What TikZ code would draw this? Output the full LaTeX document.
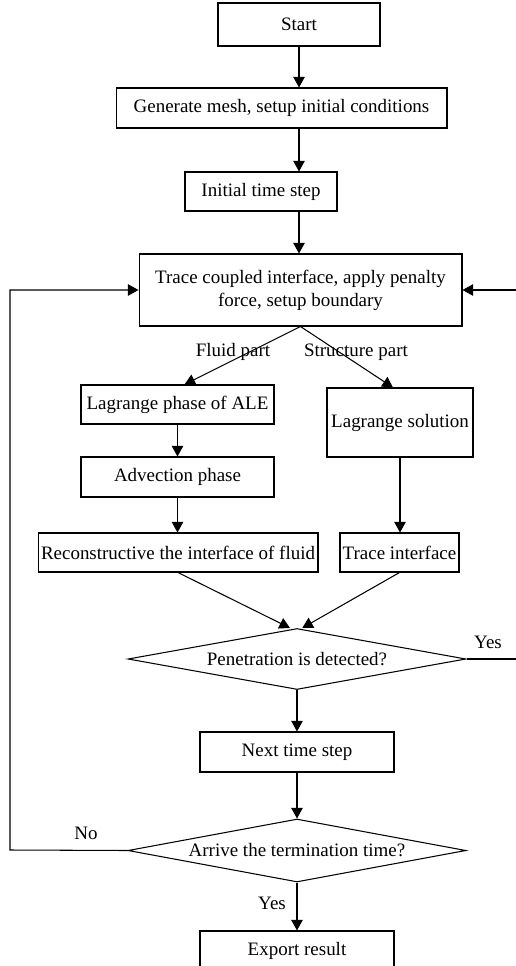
\documentclass[tikz,border=0pt]{standalone}
\usepackage{fontspec}
\setmainfont{Liberation Serif}
\usetikzlibrary{shapes.geometric, arrows.meta}
\usetikzlibrary{positioning}
\tikzstyle{process} = [rectangle, text centered, draw=black, line width=0.6pt, inner sep=1pt, font=\fontsize{10.8}{13}\selectfont]
\tikzstyle{decision} = [diamond, aspect=5.4, text centered, draw=black, line width=0.6pt, inner sep=0pt, font=\fontsize{10.8}{13}\selectfont]
\tikzstyle{branch_label} = [inner sep=1pt, font=\fontsize{10.8}{13}\selectfont]
\tikzstyle{flow} = [line width=0.6pt, ->, >={Triangle[length=6pt, width=6.5pt]}]
\tikzstyle{flow_line} = [line width=0.6pt]

\begin{document}
\begin{tikzpicture}[x=0.02cm, y=-0.02cm]

    \path [use as bounding box, clip] (0, 0) rectangle (516, 966);

    \node (start) [process, minimum width=3.24cm, minimum height=0.86cm] at (299, 24.5) {Start};
    \node (mesh) [process, minimum width=6.62cm, minimum height=0.8cm] at (281.5, 108) {Generate mesh, setup initial conditions};
    \node (inittime) [process, minimum width=3.04cm, minimum height=0.78cm] at (261, 191.5) {Initial time step};
    \node (trace) [process, align=center, minimum width=6.46cm, minimum height=1.44cm] at (300.5, 290) {Trace coupled interface, apply penalty\\force, setup boundary};

    \node (lagrange) [process, minimum width=3.86cm, minimum height=0.78cm] at (177.5, 404.5) {Lagrange phase of ALE};
    \node (advection) [process, minimum width=3.86cm, minimum height=0.8cm] at (177.5, 477) {Advection phase};
    \node (reconstruct) [process, minimum width=5.6cm, minimum height=0.78cm] at (178, 552.5) {Reconstructive the interface of fluid};
    \node (lagsol) [process, minimum width=2.92cm, minimum height=1.38cm] at (400, 422.5) {Lagrange solution};
    \node (traceint) [process, minimum width=2.38cm, minimum height=0.78cm] at (399.5, 552.5) {Trace interface};

    \node (penetration) [decision, minimum width=6.76cm, minimum height=1.22cm] at (297, 659) {Penetration is detected?};
    \node (nexttime) [process, minimum width=3.88cm, minimum height=0.8cm] at (297, 752) {Next time step};
    \node (arrive) [decision, minimum width=6.76cm, minimum height=1.26cm] at (297, 850.5) {Arrive the termination time?};
    \node (export) [process, minimum width=3.88cm, minimum height=0.8cm] at (297, 951) {Export result};

    \node (fluidlabel) [branch_label] at (233, 352) {Fluid part};
    \node (structlabel) [branch_label] at (356, 352) {Structure part};
    \node (yespen) [branch_label] at (488, 642) {Yes};
    \node (noarrive) [branch_label] at (86, 833) {No};
    \node (yesarrive) [branch_label] at (272, 903) {Yes};

    \coordinate (penout) at (516, 659);
    \coordinate (tracein) at (516, 290);
    \coordinate (loopcorner) at (10, 850);

    \draw [flow] (start.south) -- (start.south |- mesh.north);
    \draw [flow] (mesh.south -| start) -- (inittime.north -| start);
    \draw [flow] (inittime.south -| start) -- (trace.north -| start);

    \draw [flow] (trace.south) -- ([xshift=4pt] lagrange.north);
    \draw [flow] (trace.south) -- ([xshift=-4pt] lagsol.north);
    \draw [flow] (lagrange) -- (advection);
    \draw [flow] (advection.south) -- (advection.south |- reconstruct.north);
    \draw [flow] (lagsol.south) -- (lagsol.south |- traceint.north);

    \draw [flow] (reconstruct.south) -- ([xshift=-4pt] penetration.north);
    \draw [flow] (traceint.south) -- ([xshift=3pt] penetration.north);
    \draw [flow_line] (penetration.east) -- (penout);
    \draw [flow] (tracein) -- (trace.east);

    \draw [flow] (penetration) -- (nexttime);
    \draw [flow] (nexttime) -- (arrive);
    \draw [flow] (arrive) -- (export);
    \draw [flow] (arrive.west) -- (loopcorner) |- (trace.west);

\end{tikzpicture}
\end{document}
